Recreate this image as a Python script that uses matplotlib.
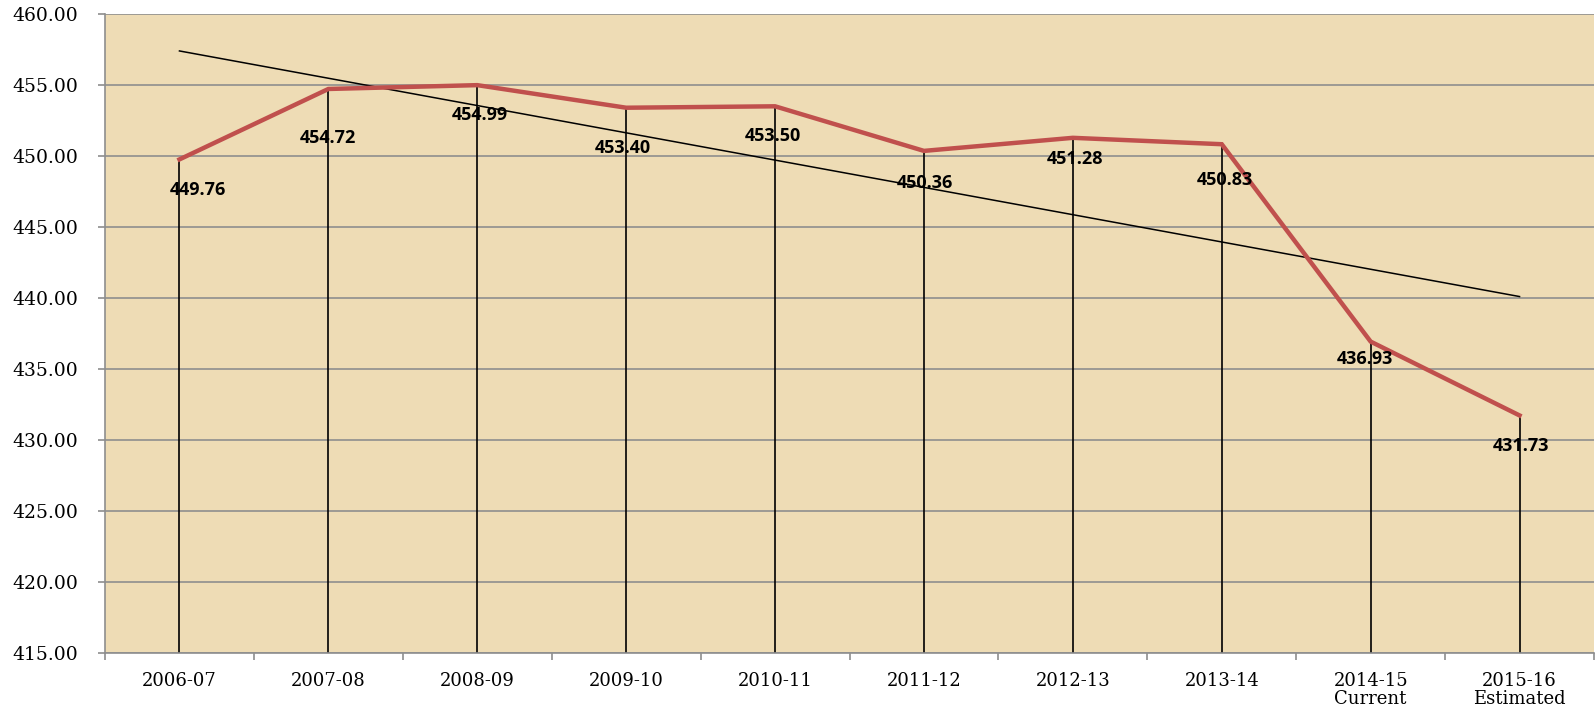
import numpy as np
import matplotlib.pyplot as plt
from matplotlib.ticker import FormatStrFormatter

# values
years = ["2006-07", "2007-08", "2008-09", "2009-10", "2010-11",
         "2011-12", "2012-13", "2013-14", "2014-15\nCurrent", "2015-16\nEstimated"]
values = [449.76, 454.72, 454.99, 453.40, 453.50, 450.36, 451.28, 450.83, 436.93, 431.73]

# label offsets (pixels) below each point, as placed in the original
label_dx = [18, 0, 3, -3, -2, 1, 2, 3, -6, 1]
label_dy = [31, 49, 30, 40, 30, 32, 21, 36, 17, 31]

fig = plt.figure(figsize=(15.95, 7.17), dpi=100)
ax = fig.add_axes([105 / 1595, 1 - 653 / 717, 1489 / 1595, 639 / 717])
ax.set_facecolor("#eedcb5")

x = np.arange(len(years))
ax.set_xlim(-0.5, len(years) - 0.5)
ax.set_ylim(415, 460)

# horizontal gridlines
ax.set_yticks(np.arange(415, 461, 5))
ax.yaxis.grid(True, color="#8e8e8e", lw=1.2)
ax.set_axisbelow(True)

# drop lines
ax.vlines(x, 415, values, color="black", lw=1.2, zorder=2)

# linear trend
k, b = np.polyfit(x, values, 1)
ax.plot(x, k * x + b, color="black", lw=1.1, zorder=3)

ax.plot(x, values, color="#c0504d", lw=3.2, zorder=4, solid_joinstyle="miter")

for i, v in enumerate(values):
    ax.annotate(f"{v:.2f}", (x[i], v), xytext=(label_dx[i], -label_dy[i]),
                textcoords="offset pixels", ha="center", va="center",
                fontsize=13, fontweight="bold", family="Open Sans", zorder=5)

ax.yaxis.set_major_formatter(FormatStrFormatter("%.2f"))
ax.set_xticks(x)
ax.set_xticklabels(years, family="DejaVu Serif", fontsize=13, linespacing=1.0)
ax.set_xticks(np.arange(-0.5, len(years)), minor=True)
ax.tick_params(axis="x", which="major", length=0, pad=14)
ax.tick_params(axis="x", which="minor", length=5, color="#8e8e8e", width=1.2)
ax.tick_params(axis="y", length=5, color="#8e8e8e", width=1.2, pad=14)
for lab in ax.get_yticklabels():
    lab.set_family("DejaVu Serif")
    lab.set_fontsize(13.5)

for s in ["top", "right"]:
    ax.spines[s].set_visible(False)
for s in ["left", "bottom"]:
    ax.spines[s].set_color("#8e8e8e")
    ax.spines[s].set_linewidth(1.2)

fig.savefig("out.png", dpi=100)
